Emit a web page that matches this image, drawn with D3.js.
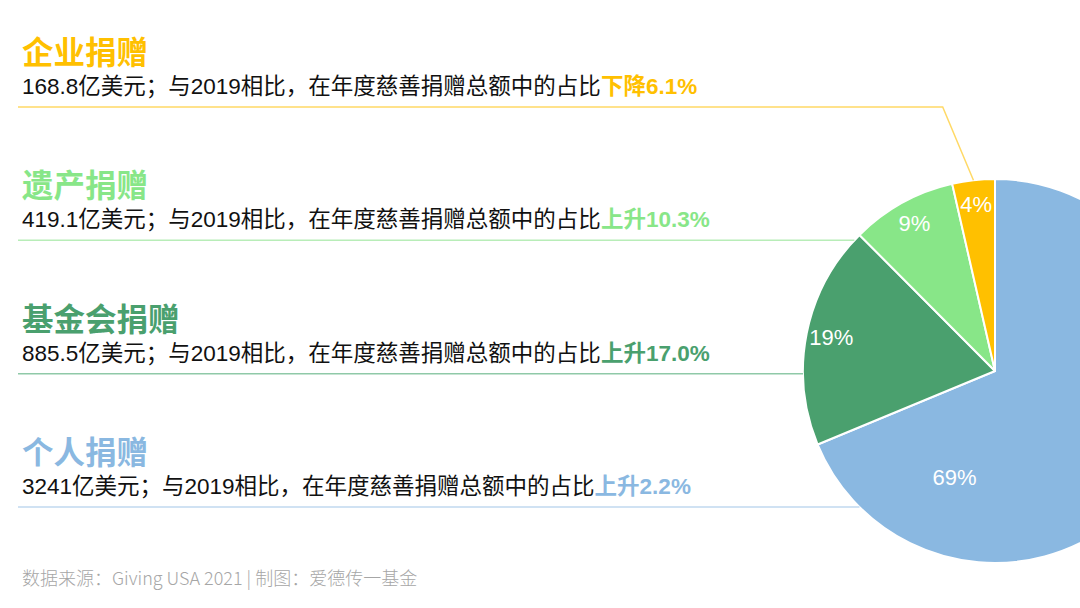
<!DOCTYPE html>
<html>
<head>
<meta charset="utf-8">
<script src="https://cdn.jsdelivr.net/npm/d3@7"></script>
<style>
  body { margin: 0; background: #fff; }
  svg { display: block; }
</style>
</head>
<body>
<svg id="chart" width="1080" height="608"></svg>
<script>
// data, top to bottom as listed on the left
var categories = ["企业捐赠", "遗产捐赠", "基金会捐赠", "个人捐赠"];
var amounts = [168.8, 419.1, 885.5, 3241];
var trendWords = ["下降", "上升", "上升", "上升"];
var trendValues = [6.1, 10.3, 17.0, 2.2];
var baseYear = "2019";
var sourceText = "数据来源：Giving USA 2021 | 制图：爱德传一基金";

var colors = ["#FFC000", "#88E688", "#4AA06E", "#8AB8E1"];
var lineColors = ["#FFD966", "#B8EDB8", "#8FC9A8", "#C0D8EF"];

var width = 1080, height = 608;
var cx = 995, cy = 371, radius = 192;
var cjk = "'Liberation Sans', Arial, 'Noto Sans CJK SC', sans-serif";

var svg = d3.select("#chart");
svg.append("rect").attr("width", width).attr("height", height).attr("fill", "#fff");

// rows of the left hand text blocks (y of underline)
var rowY = d3.scaleLinear().domain([0, categories.length - 1]).range([107, 507]);

var rows = categories.map(function(c, i){
	return {name: c, amount: amounts[i], word: trendWords[i], change: trendValues[i], color: colors[i], line: lineColors[i], i: i};
});

// pie goes clockwise from 12 o'clock: 个人, 基金会, 遗产, 企业
var pie = d3.pie().sort(null).value(function(d){ return d.amount; });
var arcs = pie(rows.slice().reverse());
var total = d3.sum(amounts);

var arc = d3.arc().innerRadius(0).outerRadius(radius);

var g = svg.append("g").attr("transform", "translate(" + cx + "," + cy + ")");

g.selectAll("path")
	.data(arcs)
	.enter()
	.append("path")
	.attr("d", arc)
	.attr("fill", function(d){ return d.data.color; })
	.attr("stroke", "#fff")
	.attr("stroke-width", 2)
	.attr("stroke-linejoin", "round");

// the pie runs off the right edge; big slice label sits in its visible part
var cut = Math.asin((width - cx) / radius);
g.selectAll("text.pct")
	.data(arcs)
	.enter()
	.append("text")
	.attr("class", "pct")
	.attr("transform", function(d){
		var share = d.value / total;
		var a0 = share > 0.5 ? Math.max(d.startAngle, Math.PI - cut) : d.startAngle;
		var rr = share > 0.5 ? radius * 0.6 : radius * 0.87;
		var c = d3.arc().innerRadius(rr).outerRadius(rr).centroid({startAngle: a0, endAngle: d.endAngle});
		return "translate(" + c[0] + "," + c[1] + ")";
	})
	.attr("text-anchor", "middle")
	.attr("dy", "0.3em")
	.attr("fill", "#fff")
	.attr("font-family", cjk)
	.attr("font-size", 22)
	.text(function(d){ return d3.format(".0%")(d.value / total); });

// leader lines
function angleOf(x, y){
	var a = Math.atan2(x - cx, -(y - cy));
	return a < 0 ? a + 2 * Math.PI : a;
}
var leaders = arcs.map(function(d){
	var y = rowY(d.data.i);
	var dy = y - cy;
	if (Math.abs(dy) < radius) {
		var x = cx - Math.sqrt(radius * radius - dy * dy);
		var a = angleOf(x, y);
		if (a >= d.startAngle - 0.05 && a <= d.endAngle + 0.05)
			return {d: d, pts: [[18, y], [x, y]]};
	}
	var mid = (d.startAngle + d.endAngle) / 2;
	var ex = cx + radius * Math.sin(mid), ey = cy - radius * Math.cos(mid);
	var bx = ex - (ey - y) * 0.42;
	return {d: d, pts: [[18, y], [bx, y], [ex, ey]]};
});

svg.selectAll("path.leader")
	.data(leaders)
	.enter()
	.append("path")
	.attr("class", "leader")
	.attr("d", function(l){ return d3.line()(l.pts); })
	.attr("fill", "none")
	.attr("stroke", function(l){ return l.d.data.line; })
	.attr("stroke-width", 1.5);

// text blocks
var blocks = svg.selectAll("g.block")
	.data(rows)
	.enter()
	.append("g")
	.attr("class", "block")
	.attr("transform", function(d){ return "translate(22," + rowY(d.i) + ")"; });

blocks.append("text")
	.attr("y", -43)
	.attr("fill", function(d){ return d.color; })
	.attr("font-family", "'Noto Sans CJK SC', sans-serif")
	.attr("font-weight", "bold")
	.attr("font-size", 31.5)
	.text(function(d){ return d.name; });

var sub = blocks.append("text")
	.attr("y", -13)
	.attr("font-family", cjk)
	.attr("font-size", 22.5)
	.attr("fill", "#111");

sub.append("tspan")
	.text(function(d){ return d.amount + "亿美元；与" + baseYear + "相比，在年度慈善捐赠总额中的占比"; });

sub.append("tspan")
	.attr("fill", function(d){ return d.color; })
	.attr("font-weight", "bold")
	.text(function(d){ return d.word + d3.format(".1f")(d.change) + "%"; });

// source note
svg.append("text")
	.attr("x", 22)
	.attr("y", 585)
	.attr("fill", "#A6A6A6")
	.attr("font-family", "'Noto Sans CJK SC', sans-serif")
	.attr("font-weight", 300)
	.attr("font-size", 18)
	.text(sourceText);
</script>
</body>
</html>
